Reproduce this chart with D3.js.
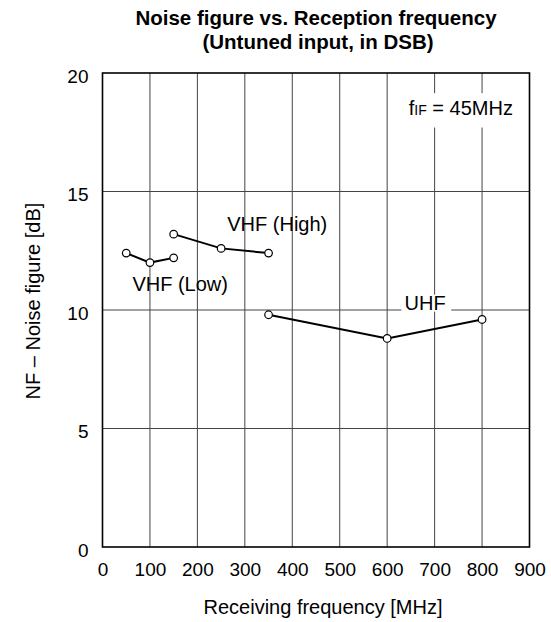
<!DOCTYPE html>
<html><head><meta charset="utf-8">
<script src="https://cdn.jsdelivr.net/npm/d3@7"></script>
<style>body{margin:0;background:#fff;} text{font-family:"Liberation Sans",Arial,sans-serif;fill:#000;}</style>
</head><body>
<svg id="c" width="551" height="622"></svg>
<script>
const xTicks = [0,100,200,300,400,500,600,700,800,900];
const yTicks = [0,5,10,15,20];
const vhfLowX = [50,100,150];
const vhfLowY = [12.4,12.0,12.2];
const vhfHighX = [150,250,350];
const vhfHighY = [13.2,12.6,12.4];
const uhfX = [350,600,800];
const uhfY = [9.8,8.8,9.6];
const seriesNames = ["VHF (Low)","VHF (High)","UHF"];

const svg = d3.select("#c");
const L=102.5, R=529.5, T=73, B=547;
const x = d3.scaleLinear().domain([0,900]).range([L,R]);
const y = d3.scaleLinear().domain([0,20]).range([B,T]);
const FF = "'Liberation Sans',Arial,sans-serif";

// grid
svg.append("g").selectAll("line").data(xTicks.slice(1,-1)).join("line")
  .attr("x1",d=>x(d)).attr("x2",d=>x(d)).attr("y1",T).attr("y2",B)
  .attr("stroke","#444").attr("stroke-width",1);
svg.append("g").selectAll("line").data(yTicks.slice(1,-1)).join("line")
  .attr("x1",L).attr("x2",R).attr("y1",d=>y(d)).attr("y2",d=>y(d))
  .attr("stroke","#444").attr("stroke-width",1);

// axes labels
const xa = d3.axisBottom(x).tickValues(xTicks).tickSize(0).tickPadding(16);
const gx = svg.append("g").attr("transform",`translate(0,${B})`).call(xa);
gx.select(".domain").remove();
gx.selectAll("text").style("font-size","19px").style("font-family",FF).attr("fill","#000");
const ya = d3.axisLeft(y).tickValues(yTicks).tickSize(0).tickPadding(14);
const gy = svg.append("g").attr("transform",`translate(${L},3)`).call(ya);
gy.select(".domain").remove();
gy.selectAll("text").style("font-size","19px").style("font-family",FF).attr("fill","#000");

// frame
svg.append("rect").attr("x",L).attr("y",T).attr("width",R-L).attr("height",B-T)
  .attr("fill","none").attr("stroke","#000").attr("stroke-width",1.6);

// white backgrounds behind in-plot labels
svg.append("rect").attr("x",x(630)).attr("y",y(10.65)).attr("width",x(735)-x(630)).attr("height",y(9.93)-y(10.65)).attr("fill","#fff");
svg.append("rect").attr("x",x(640)).attr("y",y(19.15)).attr("width",x(888)-x(640)).attr("height",y(17.7)-y(19.15)).attr("fill","#fff");

// series
const line = d3.line().x(d=>x(d[0])).y(d=>y(d[1]));
const series = [d3.zip(vhfLowX,vhfLowY), d3.zip(vhfHighX,vhfHighY), d3.zip(uhfX,uhfY)];
series.forEach(s=>{
  svg.append("path").attr("d",line(s)).attr("fill","none").attr("stroke","#000").attr("stroke-width",2);
  svg.append("g").selectAll("circle").data(s).join("circle")
    .attr("cx",d=>x(d[0])).attr("cy",d=>y(d[1])).attr("r",3.8)
    .attr("fill","#fff").attr("stroke","#000").attr("stroke-width",1.2);
});

// series labels
svg.append("text").attr("x",x(63)).attr("y",y(10.8)).attr("font-size","20px").text(seriesNames[0]);
svg.append("text").attr("x",x(263)).attr("y",y(13.33)).attr("font-size","20px").text(seriesNames[1]);
svg.append("text").attr("x",x(680)).attr("y",y(10)).attr("text-anchor","middle").attr("font-size","20px").text(seriesNames[2]);

// fIF label
const ft = svg.append("text").attr("x",x(865)).attr("y",y(18.23)).attr("text-anchor","end").attr("font-size","20px");
ft.append("tspan").text("f");
ft.append("tspan").attr("font-size","14px").text("IF");
ft.append("tspan").text(" = 45MHz");

// titles
svg.append("text").attr("x",316).attr("y",25).attr("text-anchor","middle").attr("font-size","20.5px").attr("font-weight","bold").text("Noise figure vs. Reception frequency");
svg.append("text").attr("x",318).attr("y",49).attr("text-anchor","middle").attr("font-size","20.5px").attr("font-weight","bold").text("(Untuned input, in DSB)");
svg.append("text").attr("x",323).attr("y",614).attr("text-anchor","middle").attr("font-size","20px").text("Receiving frequency [MHz]");
svg.append("text").attr("transform",`translate(40,301) rotate(-90)`).attr("text-anchor","middle").attr("font-size","20px").text("NF – Noise figure [dB]");
</script>
</body></html>
